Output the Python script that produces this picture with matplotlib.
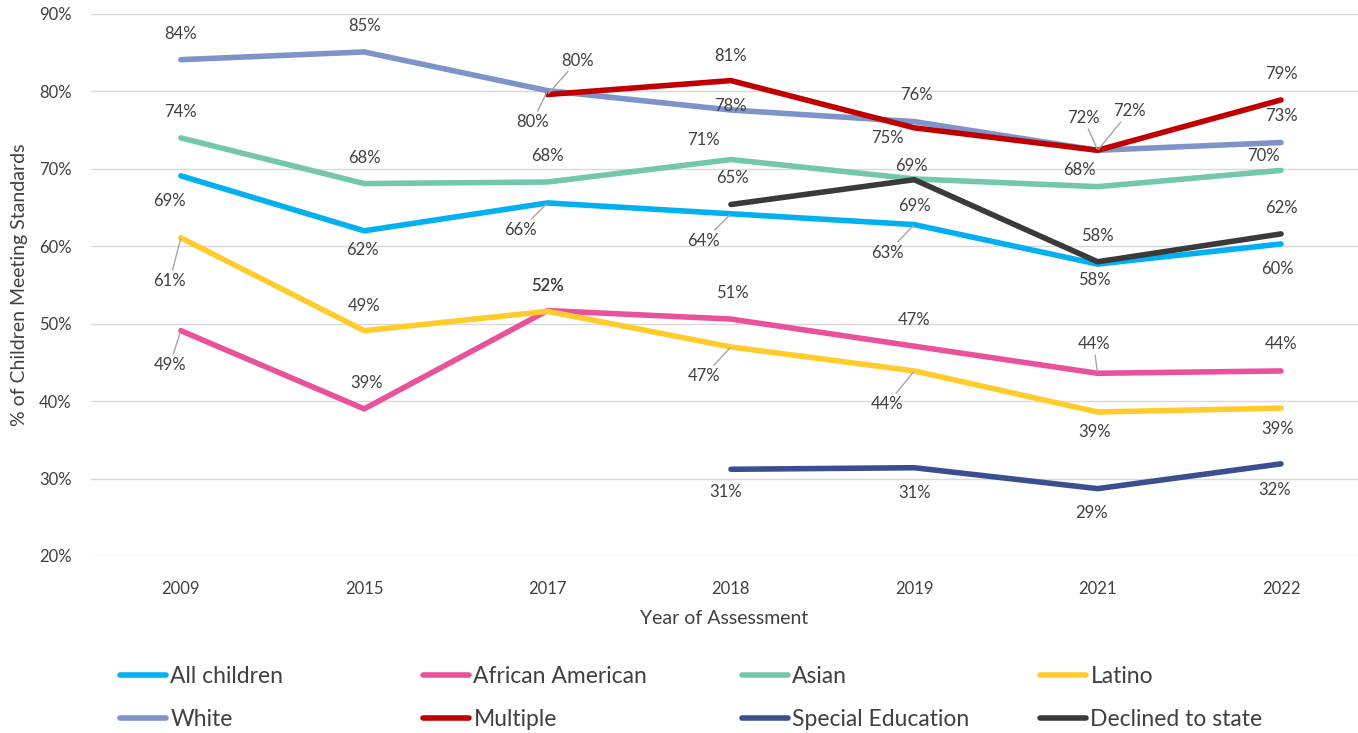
import numpy as np
import matplotlib
matplotlib.use("Agg")
import matplotlib.pyplot as plt
from matplotlib.ticker import FuncFormatter

plt.rcParams['font.family'] = ['Lato', 'DejaVu Sans']

# Data (% of children meeting standards)
years = ['2009', '2015', '2017', '2018', '2019', '2021', '2022']
nan = np.nan
all_children = [69.1, 62.0, 65.6, 64.2, 62.8, 57.7, 60.3]
african_american = [49.1, 39.0, 51.7, 50.6, 47.1, 43.6, 43.9]
asian = [74.0, 68.1, 68.3, 71.2, 68.7, 67.7, 69.8]
latino = [61.1, 49.1, 51.6, 47.0, 43.9, 38.6, 39.1]
white = [84.1, 85.1, 80.1, 77.6, 76.1, 72.4, 73.4]
multiple = [nan, nan, 79.6, 81.4, 75.3, 72.4, 78.9]
special_ed = [nan, nan, nan, 31.2, 31.4, 28.7, 31.9]
declined = [nan, nan, nan, 65.4, 68.6, 58.0, 61.6]

series = [
    ('All children', all_children, '#00B0F0'),
    ('African American', african_american, '#E9519B'),
    ('Asian', asian, '#74C8AA'),
    ('Latino', latino, '#FFCC2B'),
    ('White', white, '#7F93CB'),
    ('Multiple', multiple, '#C00000'),
    ('Special Education', special_ed, '#3A4F8E'),
    ('Declined to state', declined, '#3A3A3A'),
]

# data label offsets in pixels (dx, dy) from the point
label_offsets = {
    'All children': [(-11, -25), (-2, -19), (-27, -27), (-27, -27), (-27, -28), (-3, -16), (-4, -25)],
    'African American': [(-11, -34), (2, 26), (0, 25), (2, 26), (0, 26), (-4, 29), (0, 27)],
    'Asian': [(0, 26), (0, 26), (0, 26), (-27, 20), (-3, 13), (-18, 17), (-18, 14)],
    'Latino': [(-11, -43), (0, 25), (0, 25), (-27, -29), (-27, -33), (-3, -20), (-3, -21)],
    'White': [(0, 26), (0, 26), (-15, -31), (0, 4), (2, 27), (-14, 32), (0, 27)],
    'Multiple': [None, None, (30, 34), (0, 25), (-27, -10), (32, 39), (0, 26)],
    'Special Education': [None, None, None, (-5, -23), (0, -25), (-6, -24), (-6, -26)],
    'Declined to state': [None, None, None, (2, 26), (0, -26), (0, 26), (0, 26)],
}
# labels drawn with a leader line
leaders = {('All children', 2), ('All children', 3), ('All children', 4),
           ('African American', 0), ('African American', 5),
           ('Latino', 0), ('Latino', 3), ('Latino', 4),
           ('White', 2), ('White', 5), ('Multiple', 2), ('Multiple', 5)}

text_color = '#404040'

fig = plt.figure(figsize=(13.58, 7.33), dpi=100)
ax = fig.add_axes([91 / 1358, 1 - 556 / 733, (1358 - 91) / 1358, (556 - 14) / 733])

x = np.arange(len(years))
for name, vals, color in series:
    ax.plot(x, vals, color=color, lw=4, solid_capstyle='round',
            solid_joinstyle='round', label=name, zorder=3)

for name, vals, color in series:
    for i, v in enumerate(vals):
        off = label_offsets[name][i]
        if off is None or np.isnan(v):
            continue
        kw = {}
        if (name, i) in leaders:
            kw['arrowprops'] = dict(arrowstyle='-', color='#A6A6A6', lw=1,
                                    shrinkA=0, shrinkB=1)
        ax.annotate(f"{v:.0f}%", xy=(i, v), xytext=off, textcoords='offset pixels',
                    ha='center', va='center', fontsize=12, color=text_color,
                    zorder=4, **kw)

ax.set_xlim(-0.49, 6.42)
ax.set_ylim(20, 90)
ax.set_yticks(range(20, 91, 10))
ax.yaxis.set_major_formatter(FuncFormatter(lambda v, p: f"{v:.0f}%"))
ax.set_xticks(x)
ax.set_xticklabels(years)
ax.grid(axis='y', color='#D9D9D9', lw=1)
ax.set_axisbelow(True)
for s in ax.spines.values():
    s.set_visible(False)
ax.tick_params(length=0, labelsize=12, colors=text_color)
ax.tick_params(axis='y', pad=14)
ax.tick_params(axis='x', pad=18)
ax.set_xlabel('Year of Assessment', fontsize=14, color=text_color, labelpad=9)
ax.set_ylabel('% of Children Meeting Standards', fontsize=14, color=text_color, labelpad=8)

# legend: four columns, two rows each
handles, labels = ax.get_legend_handles_labels()
col_x = [120, 423, 742, 1040]
for c in range(4):
    idx = [c, c + 4]
    fig.legend([handles[k] for k in idx], [labels[k] for k in idx],
               loc='center left', bbox_to_anchor=(col_x[c] / 1358, 1 - 698 / 733),
               frameon=False, fontsize=16.5, handlelength=2.0, handletextpad=0.2,
               labelspacing=0.95, borderpad=0, borderaxespad=0, labelcolor=text_color)

fig.savefig('out.png', dpi=100)
